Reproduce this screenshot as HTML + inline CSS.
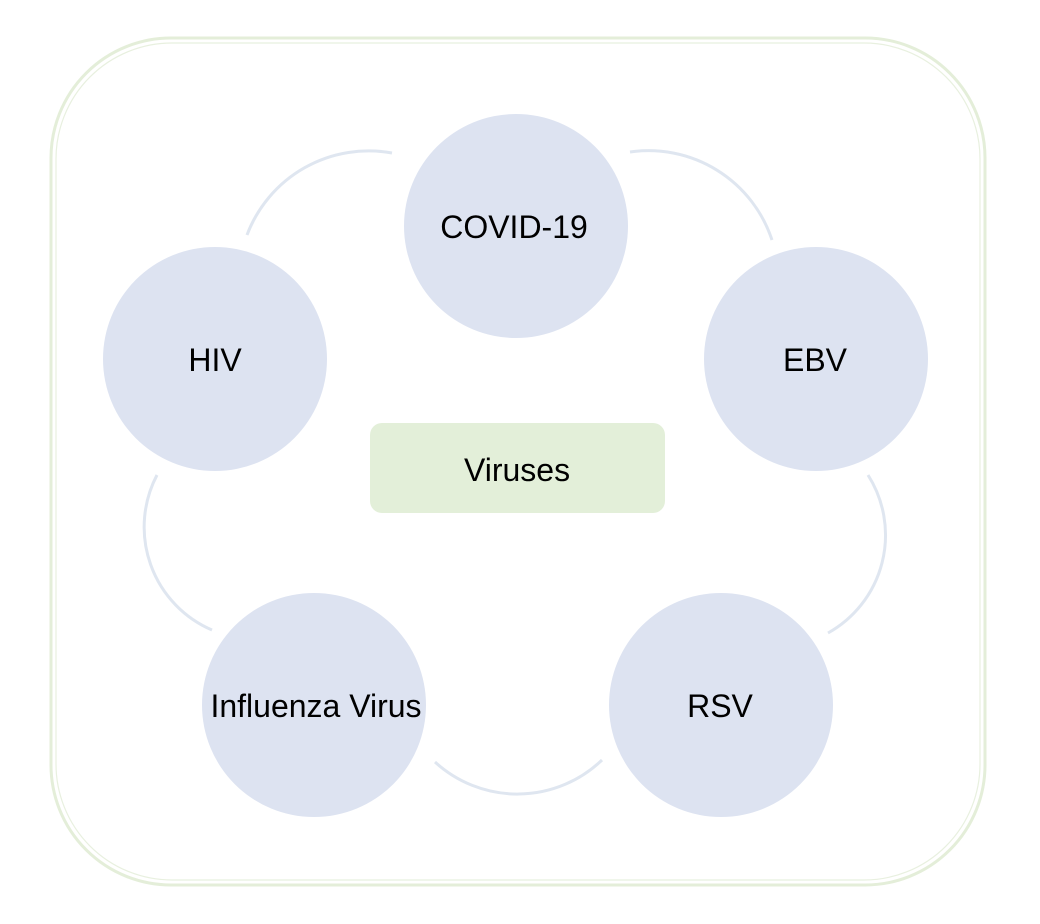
<!DOCTYPE html>
<html><head><style>
html,body{margin:0;padding:0;background:#fff;width:1040px;height:924px;overflow:hidden}
svg{display:block}
text{font-family:"Liberation Sans",Arial,sans-serif;font-size:32px;fill:#000}
</style></head><body>
<svg width="1040" height="924" viewBox="0 0 1040 924">
<rect x="51" y="38" width="934" height="847" rx="120" fill="#fff" stroke="#e4eed9" stroke-width="3"/>
<rect x="56" y="43" width="924" height="837" rx="116" fill="none" stroke="#e8f0df" stroke-width="1.2"/>
<g fill="none" stroke="#dfe6f0" stroke-width="3">
<path d="M247 235 A130 130 0 0 1 392 153"/>
<path d="M630 152 A130 130 0 0 1 772 240"/>
<path d="M868 475 A112 112 0 0 1 828 633"/>
<path d="M602 760 A122 122 0 0 1 435 762"/>
<path d="M212 630 A112 112 0 0 1 157 475"/>
</g>
<g fill="#dde3f1">
<circle cx="516" cy="226" r="112"/>
<circle cx="816" cy="359" r="112"/>
<circle cx="721" cy="705" r="112"/>
<circle cx="314" cy="705" r="112"/>
<circle cx="215" cy="359" r="112"/>
</g>
<rect x="370" y="423" width="295" height="90" rx="12" fill="#e3efd9"/>
<g text-anchor="middle">
<text x="514" y="238">COVID-19</text>
<text x="815" y="371">EBV</text>
<text x="720" y="717">RSV</text>
<text x="316" y="717">Influenza Virus</text>
<text x="215" y="371">HIV</text>
<text x="517" y="481">Viruses</text>
</g>
</svg>
</body></html>
